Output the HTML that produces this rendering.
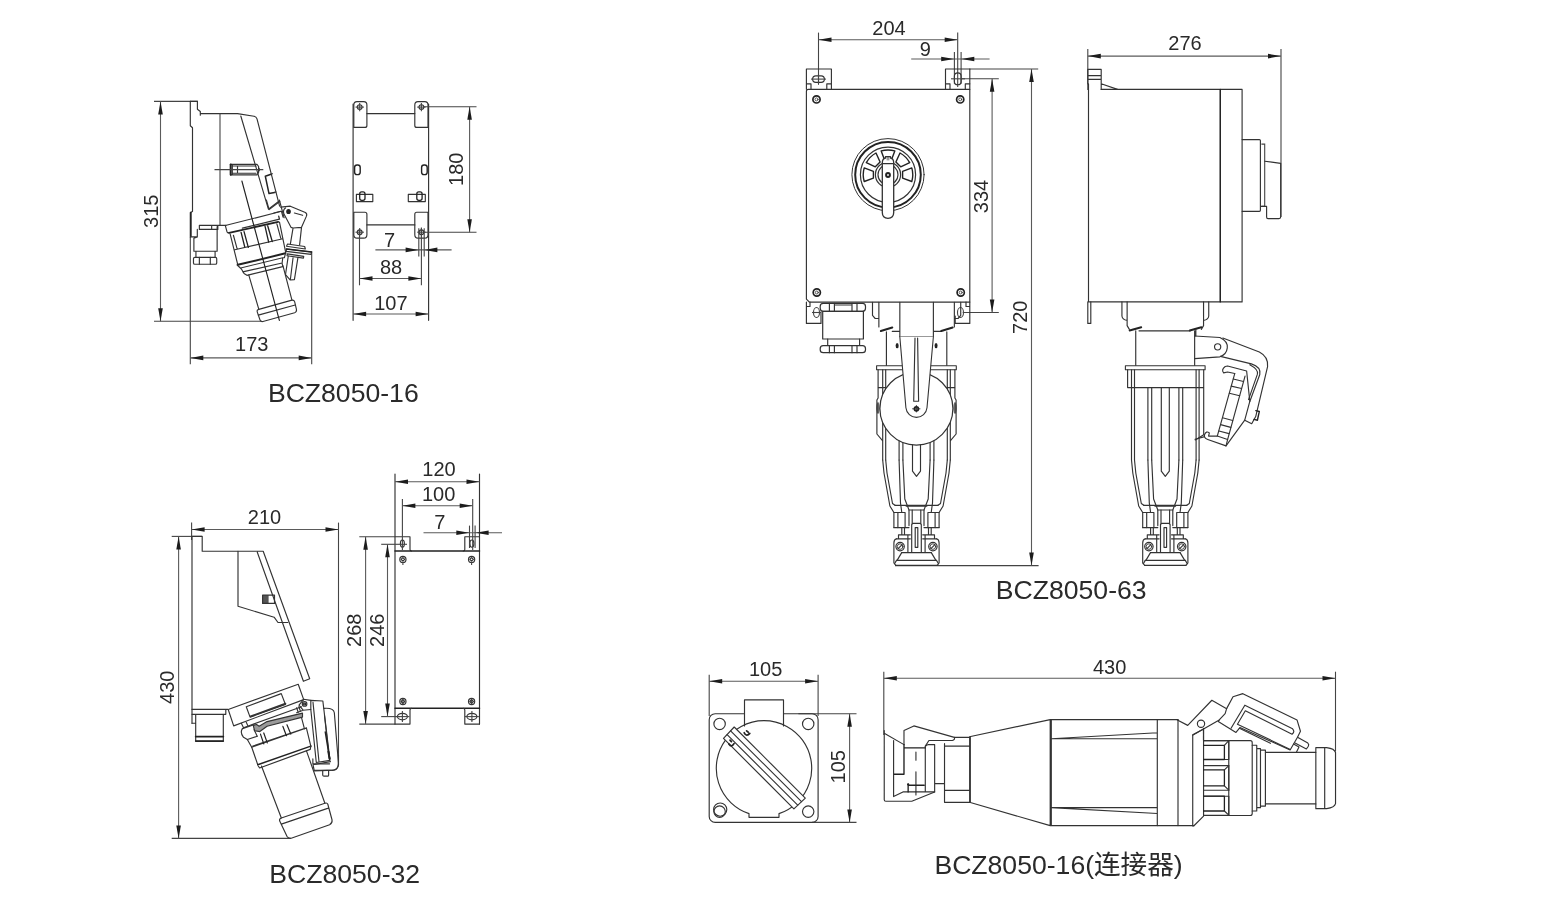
<!DOCTYPE html>
<html><head><meta charset="utf-8"><title>BCZ8050</title>
<style>
html,body{margin:0;padding:0;background:#fff;}
svg{display:block;filter:grayscale(1);}
text{font-family:"Liberation Sans","Noto Sans CJK SC",sans-serif;fill:#2a2a2a;}
.t{font-size:26.6px;}
.d{font-size:20px;}
.l{fill:none;stroke:#333;stroke-linecap:round;stroke-linejoin:round;}
.k{fill:none;stroke:#222;stroke-linecap:round;stroke-linejoin:round;}
.w{fill:#fff;stroke:#333;stroke-linecap:round;stroke-linejoin:round;}
.n{fill:none;stroke:#444;stroke-width:1.1;}
.m{fill:none;stroke:#5a5a5a;stroke-width:1.1;}
.a{fill:#1c1c1c;stroke:none;}
.f{fill:#222;stroke:none;}
</style></head><body>
<svg width="1550" height="914" viewBox="0 0 1550 914">
<rect width="1550" height="914" fill="#fff"/>
<g stroke-width="1.15">
<g id="titles">
<text class="t" x="267.9" y="402.2">BCZ8050-16</text>
<text class="t" x="269.3" y="883">BCZ8050-32</text>
<text class="t" x="995.8" y="599.2">BCZ8050-63</text>
<text class="t" x="934.4" y="873.8">BCZ8050-16(连接器)</text>
</g>
<g id="d1">
<line class="n" x1="154.0" y1="101.4" x2="198.0" y2="101.4"/>
<line class="n" x1="154.0" y1="321.3" x2="262.0" y2="321.3"/>
<line class="m" x1="160.5" y1="101.4" x2="160.5" y2="321.3"/><polygon class="a" points="160.5,101.4 158.2,114.4 162.8,114.4"/><polygon class="a" points="160.5,321.3 158.2,308.3 162.8,308.3"/>
<text class="d" transform="translate(158.3,211.2) rotate(-90)" text-anchor="middle">315</text>
<line class="n" x1="190.3" y1="237.0" x2="190.3" y2="364.3"/>
<line class="n" x1="311.7" y1="251.5" x2="311.7" y2="364.3"/>
<line class="m" x1="190.3" y1="357.9" x2="311.7" y2="357.9"/><polygon class="a" points="190.3,357.9 203.3,355.6 203.3,360.2"/><polygon class="a" points="311.7,357.9 298.7,355.6 298.7,360.2"/>
<text class="d" x="251.8" y="350.9" text-anchor="middle">173</text>
<path class="l" d="M190.3 101.4 H197.4 V109.3 L200.3 111.5 V115.2 M200.3 113.6 H237.5 L254 116.2 Q256.3 116.6 257 118.8 L279.6 206.2"/>
<path class="l" d="M190.3 101.4 V125.8 L192.5 127.8 V211.6 L190.3 212.6 V237"/>
<path class="k" d="M190.9 212.5 V236.5" stroke-width="1.6"/>
<line class="n" x1="220.0" y1="113.6" x2="220.0" y2="225.3"/>
<path class="l" d="M240.8 116 L268.4 209.2 L279.2 201"/>
<path class="l" d="M230.3 164.3 H257 L258.6 166.5 V172.5 L257 174.8 H230.3 Z M232.3 164.3 V174.8 M237.5 166 V173.2 M232.3 166 H256 M232.3 173.2 H256"/>
<path class="k" d="M230.8 164.3 V174.8" stroke-width="1.8"/>
<path class="f" d="M258.6 167.3 L259.8 168.6 V170.8 L258.6 172 Z"/>
<line class="n" x1="214.5" y1="169.6" x2="263.3" y2="169.6"/>
<path class="k" d="M271 174.3 L265.3 176.2 L269 193.6 L274.6 192.4" stroke-width="1.5"/>
<path class="l" d="M271 174.3 L272.5 173.8 M274.6 192.4 L276 192"/>
<g transform="translate(225,210) scale(0.06565)" stroke-width="17.52"><path class="l" d="M5 237 L860 20 L884 108 M5 237 L30 330 Q38 350 62 348"/><path class="k" d="M62 348 L810 180" stroke-width="27"/><path class="l" d="M265 277 L830 140 L818 95" stroke-width="20"/><path class="l" d="M78 365 L195 835 M128 385 L185 592 M150 605 L880 437 M830 185 L925 650 M790 212 L850 432"/><path class="k" d="M245 342 L300 560 M290 330 L355 570 M610 250 L665 490 M650 240 L720 480" stroke-width="20"/><path class="k" d="M195 835 L920 660" stroke-width="30"/><path class="l" d="M185 838 L250 898 L290 968 L340 998 M240 883 L880 728 M270 943 L870 808 M335 995 L880 863 M920 665 L905 725 L880 728 L870 808 L880 863"/></g>
<g transform="translate(185,200) scale(0.13676)" stroke-width="8.41"><path class="l" d="M40 270 H90 V215 M65 280 L90 270 M65 280 V375 H235 V195 M105 185 H300 M105 185 V215 H240 V185 M195 185 V215 M80 375 V420 M220 375 V420"/><rect class="l" x="62" y="420" width="170" height="50" rx="10"/><path class="l" d="M105 420 V470 M185 420 V470"/><path class="l" d="M466 548 L540 800 M716 480 L782 732"/><path class="l" d="M540 800 L782 732 Q798 730 802 745 L815 800 Q818 818 802 824 L570 888 Q553 892 548 876 L528 818 Q525 803 540 800 Z"/><path class="l" d="M536 842 L806 768"/><path class="k" d="M416 -139 L690 880"/><path class="l" d="M595 0 L615 70 L695 10 M690 0 L725 130"/><path class="l" d="M650 95 L700 82"/><ellipse class="f" cx="757" cy="84" rx="17" ry="19"/><path class="l" d="M700 52 L770 45 L880 92 Q895 100 888 118 L852 200 L838 328 M722 98 L775 200 L790 205 L770 325 M790 205 L850 200 M800 95 L860 112 M722 98 Q715 70 735 58"/><path class="l" d="M750 322 L875 340 L880 358 L742 338 Z M742 358 L925 380 L922 398 L740 376 Z M748 394 L868 412 L866 425 L746 408 Z"/><path class="k" d="M742 358 L925 380" stroke-width="12"/><path class="l" d="M755 410 L735 545 L770 585 L800 582 L826 420 M770 585 L790 422"/></g>
<path class="l" d="M353.1 104 V320.3 M428.6 104 V320.3"/>
<path class="l" d="M353.8 127.4 V105 Q353.8 101.6 357 101.6 H363.7 Q366.9 101.6 366.9 105 V125.4 Q366.9 127.4 364.9 127.4 Z"/>
<path class="l" d="M428 127.4 V105 Q428 101.6 424.8 101.6 H418 Q414.8 101.6 414.8 105 V125.4 Q414.8 127.4 416.8 127.4 Z"/>
<path class="l" d="M366.9 113.6 H414.8"/>
<path class="l" d="M353.8 212.2 V234.7 Q353.8 238.1 357 238.1 H363.7 Q366.9 238.1 366.9 234.7 V214.2 Q366.9 212.2 364.9 212.2 Z"/>
<path class="l" d="M428 212.2 V234.7 Q428 238.1 424.8 238.1 H418 Q414.8 238.1 414.8 234.7 V214.2 Q414.8 212.2 416.8 212.2 Z"/>
<path class="l" d="M366.9 224.9 H414.8"/>
<circle class="l" cx="359.7" cy="107.1" r="2.4"/><line class="n" x1="355.5" y1="107.1" x2="363.9" y2="107.1"/><line class="n" x1="359.7" y1="102.9" x2="359.7" y2="111.3"/>
<circle class="l" cx="421.4" cy="107.1" r="2.4"/><line class="n" x1="417.2" y1="107.1" x2="425.6" y2="107.1"/><line class="n" x1="421.4" y1="102.9" x2="421.4" y2="111.3"/>
<circle class="l" cx="359.7" cy="232.2" r="2.4"/><line class="n" x1="355.5" y1="232.2" x2="363.9" y2="232.2"/><line class="n" x1="359.7" y1="228.0" x2="359.7" y2="236.4"/>
<circle class="l" cx="421.4" cy="232.2" r="2.4"/><line class="n" x1="417.2" y1="232.2" x2="425.6" y2="232.2"/><line class="n" x1="421.4" y1="228.0" x2="421.4" y2="236.4"/>
<rect class="k" x="354.6" y="165" width="5.6" height="9.6" rx="2.4" stroke-width="1.4"/>
<rect class="k" x="421.6" y="165" width="5.6" height="9.6" rx="2.4" stroke-width="1.4"/>
<rect class="l" x="356.4" y="194.4" width="16.4" height="7.2"/>
<rect class="k" x="359.7" y="191.9" width="5.3" height="8.4" rx="2" stroke-width="1.3"/>
<rect class="l" x="408.3" y="194.4" width="17" height="7.2"/>
<rect class="k" x="416.8" y="191.9" width="5.3" height="8.4" rx="2" stroke-width="1.3"/>
<line class="n" x1="424.0" y1="106.8" x2="476.5" y2="106.8"/>
<line class="n" x1="424.0" y1="232.2" x2="476.5" y2="232.2"/>
<line class="m" x1="469.6" y1="106.8" x2="469.6" y2="232.2"/><polygon class="a" points="469.6,106.8 467.3,119.8 471.9,119.8"/><polygon class="a" points="469.6,232.2 467.3,219.2 471.9,219.2"/>
<text class="d" transform="translate(462.8,169.2) rotate(-90)" text-anchor="middle">180</text>
<line class="m" x1="375.4" y1="249.9" x2="451.6" y2="249.9"/>
<polygon class="a" points="418.6,249.9 405.6,247.6 405.6,252.2"/>
<polygon class="a" points="424.4,249.9 437.4,247.6 437.4,252.2"/>
<line class="n" x1="418.8" y1="228.2" x2="418.8" y2="256.5"/>
<line class="n" x1="424.2" y1="228.2" x2="424.2" y2="256.5"/>
<text class="d" x="389.6" y="246.6" text-anchor="middle">7</text>
<line class="n" x1="359.5" y1="229.5" x2="359.5" y2="285.3"/>
<line class="n" x1="421.4" y1="227.6" x2="421.4" y2="285.3"/>
<line class="m" x1="359.5" y1="278.5" x2="421.4" y2="278.5"/><polygon class="a" points="359.5,278.5 372.5,276.2 372.5,280.8"/><polygon class="a" points="421.4,278.5 408.4,276.2 408.4,280.8"/>
<text class="d" x="391.0" y="273.5" text-anchor="middle">88</text>
<line class="m" x1="353.1" y1="314.0" x2="428.6" y2="314.0"/><polygon class="a" points="353.1,314.0 366.1,311.7 366.1,316.3"/><polygon class="a" points="428.6,314.0 415.6,311.7 415.6,316.3"/>
<text class="d" x="390.9" y="309.6" text-anchor="middle">107</text>
</g>
<g id="d2">
<line class="n" x1="191.6" y1="522.6" x2="191.6" y2="540.0"/>
<line class="n" x1="338.5" y1="522.6" x2="338.5" y2="765.0"/>
<line class="m" x1="191.6" y1="529.5" x2="338.5" y2="529.5"/><polygon class="a" points="191.6,529.5 204.6,527.2 204.6,531.8"/><polygon class="a" points="338.5,529.5 325.5,527.2 325.5,531.8"/>
<text class="d" x="264.5" y="524.0" text-anchor="middle">210</text>
<line class="n" x1="171.7" y1="536.4" x2="202.2" y2="536.4"/>
<line class="n" x1="171.7" y1="838.4" x2="291.0" y2="838.4"/>
<line class="m" x1="178.6" y1="536.4" x2="178.6" y2="838.4"/><polygon class="a" points="178.6,536.4 176.3,549.4 180.9,549.4"/><polygon class="a" points="178.6,838.4 176.3,825.4 180.9,825.4"/>
<text class="d" transform="translate(173.6,687.3) rotate(-90)" text-anchor="middle">430</text>
<path class="l" d="M192 536.4 H202.2 V551.2 H263.2 L309.7 678.8 L303.4 681.3 L257.3 552.2 M192 536.4 V723.2"/>
<path class="l" d="M238 551.2 V606.3 L274.1 617.2 L278 622.5 H287.8"/>
<rect x="262.6" y="595.1" width="6" height="8.3" fill="#555"/>
<rect class="l" x="262.6" y="595.1" width="11.9" height="8.3"/>
<path class="l" d="M192 709.4 H227.8 M192 714.3 H225.8 V709.4 M195.7 714.3 V723.2 H192 M195.7 723.2 V736 M223.3 714.3 V736 M195.7 736 V741.3 H223.3 V736"/>
<path class="k" d="M195.7 736.6 H223.3" stroke-width="1.8"/>
<path class="k" d="M195.7 741 H223.3" stroke-width="1.6"/>
<g transform="translate(220,675) scale(0.10941)" stroke-width="10.51"><path class="l" d="M75 315 L715 85 L765 225 L125 465 Z"/><path class="l" d="M240 290 L560 170 L598 270 L275 385 Z"/><path class="l" d="M280 378 L598 262" stroke-width="16"/><path class="l" d="M195 442 L215 482 M240 432 L255 465"/><path class="l" d="M215 482 L745 290 M205 490 Q180 525 215 570 L250 590 L290 660 L345 820"/><path class="l" d="M205 490 L310 455"/><path d="M304 460 L334 453 L358 468 L430 426 L754 348 L754 385 L430 469 L364 517 L316 510 Z" fill="#9a9a9a" stroke="#333" stroke-linejoin="round"/><path class="l" d="M250 590 L340 560 M300 650 L770 490 M290 660 L790 485"/><path class="k" d="M370 540 L400 630 M400 530 L432 620 M575 470 L607 555 M612 455 L647 540" stroke-width="11"/><path class="l" d="M312 500 L340 560 M700 300 L715 340 M720 290 L735 330"/><path class="l" d="M745 390 L772 492 L790 485 L830 650"/><path class="k" d="M345 820 L830 650" stroke-width="14"/><path class="l" d="M350 832 L362 850 L825 680 L830 650"/><circle class="l" cx="773" cy="265" r="21"/><circle class="k" cx="773" cy="265" r="9" stroke-width="11"/><path class="l" d="M722 275 L765 222 L830 232 M830 315 L760 322 L722 275 M760 322 L700 345"/><path class="l" d="M830 232 L940 238 L1005 780 L880 800 L830 315 Z M850 250 L905 795"/><path class="l" d="M950 305 Q1038 298 1045 345 L1082 800 Q1086 862 1040 870 L862 876 L850 820 L1010 792 M955 370 L1000 770"/><path class="k" d="M962 520 L1002 765" stroke-width="13"/><path class="k" d="M990 700 L1002 765" stroke-width="18"/></g>
<g transform="translate(240,755) scale(0.09846)" stroke-width="11.68"><path class="l" d="M218 112 L420 640 M675 -42 L862 490"/><path class="l" d="M420 640 L862 490 Q885 482 892 500 L935 660 Q940 690 910 708 L520 845 Q490 850 478 828 L402 668 Q398 648 420 640 Z M420 702 L897 540"/><path class="l" d="M740 40 V90 H910 M840 160 V205 Q842 215 852 215 H890 Q900 215 900 205 V160 M760 155 H940"/><path class="l" d="M1000 0 V100 Q992 150 940 155"/></g>
<path class="l" d="M395.0 474 V724.1 M479.5 474 V724.1"/>
<path class="l" d="M395.0 536.7 H410 V549.5 Q410 551 411.5 551 M479.5 536.7 H464.8 V549.5 Q464.8 551 463.3 551"/>
<path class="k" d="M395.0 551 H479.5" stroke-width="1.5"/>
<path class="k" d="M395.0 708.2 H479.5" stroke-width="1.5"/>
<path class="l" d="M395.0 724.1 H410 V710 Q410 708.4 411.5 708.4 M479.5 724.1 H464.8 V710 Q464.8 708.4 463.3 708.4"/>
<ellipse class="l" cx="402.4" cy="543.6" rx="2" ry="3.6"/>
<ellipse class="l" cx="402.4" cy="716.6" rx="5" ry="3.2"/>
<line class="n" x1="395.4" y1="716.6" x2="409.4" y2="716.6"/>
<line class="n" x1="402.4" y1="711.0" x2="402.4" y2="722.0"/>
<ellipse class="l" cx="471.9" cy="543.6" rx="2" ry="3.6"/>
<ellipse class="l" cx="471.9" cy="716.6" rx="5" ry="3.2"/>
<line class="n" x1="464.9" y1="716.6" x2="478.9" y2="716.6"/>
<line class="n" x1="471.9" y1="711.0" x2="471.9" y2="722.0"/>
<circle class="l" cx="402.9" cy="559.4" r="3.1"/>
<path class="l" d="M401.1 559.4 l1.8 -1.8 l1.8 1.8 l-1.8 1.8 z"/>
<circle class="l" cx="402.9" cy="701.5" r="3.1"/>
<path class="l" d="M401.1 701.5 l1.8 -1.8 l1.8 1.8 l-1.8 1.8 z"/>
<circle class="l" cx="471.6" cy="559.4" r="3.1"/>
<path class="l" d="M469.8 559.4 l1.8 -1.8 l1.8 1.8 l-1.8 1.8 z"/>
<circle class="l" cx="471.6" cy="701.5" r="3.1"/>
<path class="l" d="M469.8 701.5 l1.8 -1.8 l1.8 1.8 l-1.8 1.8 z"/>
<line class="n" x1="402.9" y1="562.0" x2="402.9" y2="565.0"/>
<line class="n" x1="471.6" y1="562.0" x2="471.6" y2="565.0"/>
<line class="n" x1="402.9" y1="698.5" x2="402.9" y2="704.5"/>
<line class="n" x1="471.6" y1="698.5" x2="471.6" y2="704.5"/>
<line class="m" x1="395.0" y1="481.7" x2="479.5" y2="481.7"/><polygon class="a" points="395.0,481.7 408.0,479.4 408.0,484.0"/><polygon class="a" points="479.5,481.7 466.5,479.4 466.5,484.0"/>
<text class="d" x="439.0" y="476.4" text-anchor="middle">120</text>
<line class="n" x1="402.4" y1="499.0" x2="402.4" y2="550.0"/>
<line class="n" x1="472.7" y1="499.0" x2="472.7" y2="550.0"/>
<line class="m" x1="402.4" y1="505.8" x2="472.7" y2="505.8"/><polygon class="a" points="402.4,505.8 415.4,503.5 415.4,508.1"/><polygon class="a" points="472.7,505.8 459.7,503.5 459.7,508.1"/>
<text class="d" x="438.6" y="501.3" text-anchor="middle">100</text>
<line class="m" x1="423.5" y1="532.7" x2="502.0" y2="532.7"/>
<polygon class="a" points="469.3,532.7 456.3,530.4 456.3,535.0"/>
<polygon class="a" points="475.6,532.7 488.6,530.4 488.6,535.0"/>
<line class="n" x1="469.5" y1="525.6" x2="469.5" y2="548.0"/>
<line class="n" x1="475.1" y1="525.6" x2="475.1" y2="548.0"/>
<text class="d" x="439.8" y="529.2" text-anchor="middle">7</text>
<line class="n" x1="359.3" y1="536.7" x2="395.0" y2="536.7"/>
<line class="n" x1="359.3" y1="724.1" x2="395.0" y2="724.1"/>
<line class="n" x1="381.2" y1="544.3" x2="407.0" y2="544.3"/>
<line class="n" x1="381.2" y1="716.6" x2="400.0" y2="716.6"/>
<line class="m" x1="365.6" y1="536.7" x2="365.6" y2="724.1"/><polygon class="a" points="365.6,536.7 363.3,549.7 367.9,549.7"/><polygon class="a" points="365.6,724.1 363.3,711.1 367.9,711.1"/>
<line class="m" x1="387.5" y1="544.3" x2="387.5" y2="716.6"/><polygon class="a" points="387.5,544.3 385.2,557.3 389.8,557.3"/><polygon class="a" points="387.5,716.6 385.2,703.6 389.8,703.6"/>
<text class="d" transform="translate(360.9,630.2) rotate(-90)" text-anchor="middle">268</text>
<text class="d" transform="translate(383.9,630.2) rotate(-90)" text-anchor="middle">246</text>
</g>
<g id="d3">
<line class="n" x1="818.5" y1="32.6" x2="818.5" y2="84.6"/>
<line class="n" x1="957.7" y1="32.6" x2="957.7" y2="87.0"/>
<line class="m" x1="818.5" y1="39.7" x2="957.7" y2="39.7"/><polygon class="a" points="818.5,39.7 831.5,37.4 831.5,42.0"/><polygon class="a" points="957.7,39.7 944.7,37.4 944.7,42.0"/>
<text class="d" x="889.0" y="35.2" text-anchor="middle">204</text>
<line class="m" x1="911.2" y1="59.0" x2="989.6" y2="59.0"/>
<polygon class="a" points="954.2,59.0 941.2,56.7 941.2,61.3"/>
<polygon class="a" points="961.3,59.0 974.3,56.7 974.3,61.3"/>
<line class="n" x1="954.4" y1="51.9" x2="954.4" y2="83.8"/>
<line class="n" x1="961.1" y1="51.9" x2="961.1" y2="83.8"/>
<text class="d" x="925.4" y="56.1" text-anchor="middle">9</text>
<line class="n" x1="969.8" y1="69.0" x2="1038.2" y2="69.0"/>
<line class="n" x1="895.0" y1="565.6" x2="1038.6" y2="565.6"/>
<line class="m" x1="1031.5" y1="69.0" x2="1031.5" y2="565.6"/><polygon class="a" points="1031.5,69.0 1029.2,82.0 1033.8,82.0"/><polygon class="a" points="1031.5,565.6 1029.2,552.6 1033.8,552.6"/>
<text class="d" transform="translate(1026.5,317.2) rotate(-90)" text-anchor="middle">720</text>
<line class="n" x1="961.0" y1="78.8" x2="998.8" y2="78.8"/>
<line class="n" x1="962.7" y1="312.5" x2="998.8" y2="312.5"/>
<line class="m" x1="992.1" y1="78.8" x2="992.1" y2="312.5"/><polygon class="a" points="992.1,78.8 989.8,91.8 994.4,91.8"/><polygon class="a" points="992.1,312.5 989.8,299.5 994.4,299.5"/>
<text class="d" transform="translate(987.9,196.5) rotate(-90)" text-anchor="middle">334</text>
<path class="l" d="M806.4 91.3 Q806.4 89.3 808.4 89.3 H969.8 V302.1 H809.4 L806.4 299.1 Z"/>
<path class="l" d="M969.8 69 V89.3"/>
<path class="l" d="M806.4 89.3 V69 H831.4 V89.3 M806.4 83.8 H811 V89.3 M831.4 83.8 H826.8 V89.3"/>
<path class="l" d="M945.5 89.3 V69 H969.8 M945.5 83.8 H950 V89.3 M969.8 83.8 H965.3 V89.3"/>
<rect class="l" x="812.6" y="75.8" width="11.8" height="6.6" rx="3.3"/>
<line class="n" x1="818.5" y1="74.0" x2="818.5" y2="84.6"/>
<line class="n" x1="811.0" y1="79.1" x2="826.0" y2="79.1"/>
<rect class="l" x="954.4" y="72.9" width="6.7" height="11.8" rx="3.3"/>
<line class="n" x1="951.0" y1="78.8" x2="965.0" y2="78.8"/>
<circle class="k" cx="816.5" cy="99.4" r="3.6" stroke-width="1.7"/>
<circle class="l" cx="816.5" cy="99.4" r="1.5" stroke-width="0.8"/>
<circle class="k" cx="960.2" cy="99.4" r="3.6" stroke-width="1.7"/>
<circle class="l" cx="960.2" cy="99.4" r="1.5" stroke-width="0.8"/>
<circle class="k" cx="816.8" cy="292.5" r="3.6" stroke-width="1.7"/>
<circle class="l" cx="816.8" cy="292.5" r="1.5" stroke-width="0.8"/>
<circle class="k" cx="960.7" cy="292.5" r="3.6" stroke-width="1.7"/>
<circle class="l" cx="960.7" cy="292.5" r="1.5" stroke-width="0.8"/>
<circle class="l" cx="888.0" cy="174.7" r="36.1" stroke-width="1"/>
<circle class="k" cx="888.0" cy="174.7" r="32.8" stroke-width="2"/>
<circle class="l" cx="888.0" cy="174.7" r="27.6" stroke-width="1.2"/>
<path class="k" stroke-width="1.4" d="M873.4 178.1 L864.2 181.5 A24.8 24.8 0 0 1 864.2 167.9 L873.4 171.3 Z"/>
<path class="k" stroke-width="1.4" d="M875.3 166.8 L866.3 162.7 A24.8 24.8 0 0 1 876.0 153.0 L880.1 162.0 Z"/>
<path class="k" stroke-width="1.4" d="M884.6 160.1 L881.2 150.9 A24.8 24.8 0 0 1 894.8 150.9 L891.4 160.1 Z"/>
<path class="k" stroke-width="1.4" d="M895.9 162.0 L900.0 153.0 A24.8 24.8 0 0 1 909.7 162.7 L900.7 166.8 Z"/>
<path class="k" stroke-width="1.4" d="M902.6 171.3 L911.8 167.9 A24.8 24.8 0 0 1 911.8 181.5 L902.6 178.1 Z"/>
<circle class="w" cx="888.0" cy="174.7" r="12.6" stroke-width="1.2"/>
<circle class="l" cx="888.0" cy="174.7" r="10" stroke-width="1.2"/>
<path class="w" stroke-width="1.3" d="M882.3 163 Q882.3 158.5 885.5 158 V156.6 H890.5 V158 Q893.7 158.5 893.7 163 V212.6 Q893.7 218.3 888 218.3 Q882.3 218.3 882.3 212.6 Z"/>
<path class="l" d="M883 163.6 H893"/>
<path class="l" d="M887.2 157 V160 M888.8 157 V160" stroke-width="0.7"/>
<circle class="k" cx="888" cy="175" r="1.9" stroke-width="2"/>
<path class="l" d="M806.4 302.1 V323.4 H821 V312 M955.2 323.4 H969.8 V302.1 M955.2 323.4 V316 M966 302.1 V306.5 H969.8 M806.4 306.5 H810 V302.1"/>
<ellipse class="n" cx="816.5" cy="312.5" rx="3" ry="5"/>
<line class="n" x1="812.0" y1="312.5" x2="821.0" y2="312.5"/>
<ellipse class="n" cx="960.5" cy="312.5" rx="3" ry="5"/>
<rect class="w" x="820.2" y="303.4" width="45.3" height="7.9" rx="3" stroke-width="1.2"/>
<path class="l" d="M829.4 303.4 V311.3 M834.4 303.4 V311.3 M852 303.4 V311.3 M857 303.4 V311.3"/>
<path class="n" d="M834.4 305 H852"/>
<rect class="w" x="822.7" y="311.3" width="40.7" height="27.7" stroke-width="1.2"/>
<path class="l" d="M827.7 339 V346 M859.6 339 V346"/>
<rect class="w" x="820.2" y="345.7" width="45.3" height="7" rx="3" stroke-width="1.2"/>
<path class="l" d="M829.4 345.7 V352.7 M834.4 345.7 V352.7 M852 345.7 V352.7 M857 345.7 V352.7"/>
<g transform="translate(795,240) scale(0.16774)" stroke-width="6.86"><path class="l" d="M462 372 V450 L478 468 H500 V372 M500 468 V518 M988 372 V450 L972 468 H950 V372 M950 468 V518"/><path class="l" d="M625 372 V575 H825 V372 M580 545 H625 M825 545 H870"/><path class="k" d="M512 543 L580 522 M872 543 L940 522" stroke-width="12"/><path class="l" d="M545 548 V750 M905 548 V750"/><ellipse class="f" cx="609" cy="630" rx="9" ry="16"/><ellipse class="f" cx="841" cy="630" rx="9" ry="16"/></g>
<rect class="w" x="876.6" y="365.8" width="79.7" height="4" stroke-width="1.1"/><path class="l" d="M878.1 369.8 V387.6 H954.9 M954.9 369.8 V387.6"/><path class="l" d="M878.1 388 V398 L876.9 400 V434 L882.5 440.6 M954.9 388 V398 L956.1 400 V434 L950.5 440.6"/><path class="l" d="M882.7 369.8 V460 M950.3 369.8 V460"/><path class="l" d="M885.7 369.8 V460 M947.3 369.8 V460"/><path class="l" d="M899.1 387.6 V460 M933.9 387.6 V460"/><path class="l" d="M902.9 387.6 V460 M930.1 387.6 V460"/><path class="l" d="M912.5 387.6 V471.2 L916.5 476.4 L920.5 471.2 V387.6"/><path class="l" d="M882.7 460 L884.0 473 L889.9 506 L893.9 512.5 V527.6"/><path class="l" d="M885.7 460 L887.0 473 L892.5 503.5 L895.0 505.3"/><path class="l" d="M899.1 460 L900.5 503 L901.8 512.5"/><path class="l" d="M902.9 460 L904.8 499 L909.0 510 V525.6"/><path class="l" d="M893.9 512.5 H905.1 V527.6 M897.9 512.5 V527.6"/><path class="l" d="M893.9 527.6 H909.0"/><path class="l" d="M901.8 528 V534.8 M904.5 528 V534.8 M898.5 534.8 H910.3 M898.5 534.8 V538.8 M896.5 538.8 H910.3 M907.9 534.8 V552"/><path class="l" d="M896.5 538.8 Q893.9 539.5 893.9 543 V563 L895.9 565.4"/><path class="l" d="M901.7 552.6 L897.1 560.4 M896.5 560.4 L894.5 563.7"/><circle class="l" cx="900.1" cy="546.6" r="4.2" stroke-width="1.2"/><circle class="l" cx="900.1" cy="546.6" r="2.8" stroke-width="0.9"/><path class="l" d="M898.1 548.6 L902.1 544.6"/><path class="l" d="M950.3 460 L949.0 473 L943.1 506 L939.1 512.5 V527.6"/><path class="l" d="M947.3 460 L946.0 473 L940.5 503.5 L938.0 505.3"/><path class="l" d="M933.9 460 L932.5 503 L931.2 512.5"/><path class="l" d="M930.1 460 L928.2 499 L924.0 510 V525.6"/><path class="l" d="M939.1 512.5 H927.9 V527.6 M935.1 512.5 V527.6"/><path class="l" d="M939.1 527.6 H924.0"/><path class="l" d="M931.2 528 V534.8 M928.5 528 V534.8 M934.5 534.8 H922.7 M934.5 534.8 V538.8 M936.5 538.8 H922.7 M925.1 534.8 V552"/><path class="l" d="M936.5 538.8 Q939.1 539.5 939.1 543 V563 L937.1 565.4"/><path class="l" d="M931.3 552.6 L935.9 560.4 M936.5 560.4 L938.5 563.7"/><circle class="l" cx="932.9" cy="546.6" r="4.2" stroke-width="1.2"/><circle class="l" cx="932.9" cy="546.6" r="2.8" stroke-width="0.9"/><path class="l" d="M930.9 548.6 L934.9 544.6"/><path class="l" d="M895.0 505.3 H938.0 M906.2 506.2 H926.8 M909.0 510 H924.0"/><path class="l" d="M912.2 510 V523.5 M920.8 510 V523.5"/><path class="l" d="M911.7 552 V524.5 L912.9 523.3 H920.1 L921.3 524.5 V552"/><rect class="l" x="915.2" y="527.6" width="2.6" height="19.7"/><path class="l" d="M901.7 552.6 H931.3 M896.5 560.4 H936.5 M895.9 565.4 H937.1"/>
<circle class="w" cx="916.4" cy="408.6" r="36.5" stroke-width="1.2"/>
<ellipse class="f" cx="878" cy="408" rx="1.6" ry="6" opacity="0.7"/><ellipse class="f" cx="955" cy="408" rx="1.6" ry="6" opacity="0.7"/>
<path class="w" stroke-width="1.1" d="M899.8 336.5 L905.9 407.8 A10.6 10.6 0 0 0 927 407.8 L933.4 336.5"/>
<path class="l" d="M915 338 L913.7 401.2 H918.6 L917.6 338"/>
<circle class="k" cx="916.4" cy="408.8" r="2" stroke-width="1.8"/>
<path class="k" d="M912.5 408.8 H920 M916.4 405.4 V412" stroke-width="0.8"/>
<line class="n" x1="1087.8" y1="48.9" x2="1087.8" y2="90.0"/>
<line class="n" x1="1281.0" y1="48.9" x2="1281.0" y2="217.0"/>
<line class="m" x1="1087.8" y1="56.1" x2="1281.0" y2="56.1"/><polygon class="a" points="1087.8,56.1 1100.8,53.8 1100.8,58.4"/><polygon class="a" points="1281.0,56.1 1268.0,53.8 1268.0,58.4"/>
<text class="d" x="1185.0" y="50.4" text-anchor="middle">276</text>
<path class="l" d="M1087.8 83.8 V69.4 H1101.2 V89.4 M1087.8 75.6 H1101.2 M1087.8 79.4 H1101.2 M1101.2 83.8 L1117.5 89.4"/>
<path class="l" d="M1088.5 83.8 V301.9 H1242.1 V89.4 H1101.2 M1220.3 89.4 V301.9"/>
<path class="k" d="M1220.3 89.4 V301.9" stroke-width="1.3"/>
<path class="l" d="M1242.1 139.6 H1259.4 Q1260.4 139.6 1260.4 140.6 V210.3 Q1260.4 211.3 1259.4 211.3 H1242.1"/>
<path class="n" d="M1261.4 144.1 H1264.7 V206.4 H1261.4"/>
<path class="l" d="M1264.7 161.2 L1280.7 163.4 V216.8 Q1280.7 218.6 1279 218.6 H1268 Q1266.6 218.6 1266.6 217 V206.4 H1261.4"/>
<path class="l" d="M1087.8 301.9 V323.4 H1090.8 V301.9"/>
<g transform="translate(1070,270) scale(0.14839)" stroke-width="7.75"><path class="l" d="M350 215 V310 Q352 335 385 340 M385 215 V375 L400 400 M935 215 V310 Q933 335 900 340 M900 215 V375 L885 400"/><path class="k" d="M402 408 L480 386 M807 408 L885 386" stroke-width="13"/><path class="l" d="M465 410 H810 M443 410 V645 M840 410 V645 M848 400 V445"/><path class="l" d="M840 445 L1010 455 Q1065 480 1060 525 Q1055 570 1010 585 L840 597"/><circle class="l" cx="995" cy="518" r="21"/></g>
<rect class="w" x="1125.4" y="365.8" width="79.7" height="4" stroke-width="1.1"/><path class="l" d="M1127.6 369.8 V387.6 H1203.7 M1203.7 369.8 V434.8 L1195.3 440"/><path class="l" d="M1131.5 369.8 V460 M1199.1 369.8 V460"/><path class="l" d="M1134.5 369.8 V460 M1196.1 369.8 V460"/><path class="l" d="M1147.9 387.6 V460 M1182.7 387.6 V460"/><path class="l" d="M1151.7 387.6 V460 M1178.9 387.6 V460"/><path class="l" d="M1161.3 387.6 V471.2 L1165.3 476.4 L1169.3 471.2 V387.6"/><path class="l" d="M1131.5 460 L1132.8 473 L1138.7 506 L1142.7 512.5 V527.6"/><path class="l" d="M1134.5 460 L1135.8 473 L1141.3 503.5 L1143.8 505.3"/><path class="l" d="M1147.9 460 L1149.3 503 L1150.6 512.5"/><path class="l" d="M1151.7 460 L1153.6 499 L1157.8 510 V525.6"/><path class="l" d="M1142.7 512.5 H1153.9 V527.6 M1146.7 512.5 V527.6"/><path class="l" d="M1142.7 527.6 H1157.8"/><path class="l" d="M1150.6 528 V534.8 M1153.3 528 V534.8 M1147.3 534.8 H1159.1 M1147.3 534.8 V538.8 M1145.3 538.8 H1159.1 M1156.7 534.8 V552"/><path class="l" d="M1145.3 538.8 Q1142.7 539.5 1142.7 543 V563 L1144.7 565.4"/><path class="l" d="M1150.5 552.6 L1145.9 560.4 M1145.3 560.4 L1143.3 563.7"/><circle class="l" cx="1148.9" cy="546.6" r="4.2" stroke-width="1.2"/><circle class="l" cx="1148.9" cy="546.6" r="2.8" stroke-width="0.9"/><path class="l" d="M1146.9 548.6 L1150.9 544.6"/><path class="l" d="M1199.1 460 L1197.8 473 L1191.9 506 L1187.9 512.5 V527.6"/><path class="l" d="M1196.1 460 L1194.8 473 L1189.3 503.5 L1186.8 505.3"/><path class="l" d="M1182.7 460 L1181.3 503 L1180.0 512.5"/><path class="l" d="M1178.9 460 L1177.0 499 L1172.8 510 V525.6"/><path class="l" d="M1187.9 512.5 H1176.7 V527.6 M1183.9 512.5 V527.6"/><path class="l" d="M1187.9 527.6 H1172.8"/><path class="l" d="M1180.0 528 V534.8 M1177.3 528 V534.8 M1183.3 534.8 H1171.5 M1183.3 534.8 V538.8 M1185.3 538.8 H1171.5 M1173.9 534.8 V552"/><path class="l" d="M1185.3 538.8 Q1187.9 539.5 1187.9 543 V563 L1185.9 565.4"/><path class="l" d="M1180.1 552.6 L1184.7 560.4 M1185.3 560.4 L1187.3 563.7"/><circle class="l" cx="1181.7" cy="546.6" r="4.2" stroke-width="1.2"/><circle class="l" cx="1181.7" cy="546.6" r="2.8" stroke-width="0.9"/><path class="l" d="M1179.7 548.6 L1183.7 544.6"/><path class="l" d="M1143.8 505.3 H1186.8 M1155.0 506.2 H1175.6 M1157.8 510 H1172.8"/><path class="l" d="M1161.0 510 V523.5 M1169.6 510 V523.5"/><path class="l" d="M1160.5 552 V524.5 L1161.7 523.3 H1168.9 L1170.1 524.5 V552"/><rect class="l" x="1164.0" y="527.6" width="2.6" height="19.7"/><path class="l" d="M1150.5 552.6 H1180.1 M1145.3 560.4 H1185.3 M1144.7 565.4 H1185.9"/>
<g transform="translate(1180,325) scale(0.15865)" stroke-width="7.25"><path class="l" d="M270 82 L500 170 Q558 200 552 262 L478 575 M255 198 L450 245 Q512 265 503 312 L440 482 L408 600 L452 622 L478 575 M440 250 Q496 280 488 310 L432 470"/><path class="k" d="M478 540 L500 545 L488 600 L466 595" stroke-width="9"/><path class="l" d="M275 302 Q258 282 285 262 L300 258 L420 290 L440 482 M275 302 L300 296 L345 306 M408 600 L290 762 L175 722 Q148 712 155 690 Q165 665 185 680 L180 700 L235 700"/><path class="l" d="M345 306 L235 700 L300 722 L410 322"/><path class="l" d="M336 340 L400 356 M323 385 L388 400 M311 430 L376 446 M268 585 L332 602 M256 628 L320 645 M245 668 L309 685"/><path class="l" d="M300 722 L290 762 M150 705 L95 720"/></g>
</g>
<g id="d4">
<line class="n" x1="709.2" y1="674.7" x2="709.2" y2="716.0"/>
<line class="n" x1="818.1" y1="674.7" x2="818.1" y2="716.0"/>
<line class="m" x1="709.2" y1="681.2" x2="818.1" y2="681.2"/><polygon class="a" points="709.2,681.2 722.2,678.9 722.2,683.5"/><polygon class="a" points="818.1,681.2 805.1,678.9 805.1,683.5"/>
<text class="d" x="765.7" y="676.3" text-anchor="middle">105</text>
<line class="n" x1="798.4" y1="713.7" x2="856.5" y2="713.7"/>
<line class="n" x1="812.0" y1="822.4" x2="856.5" y2="822.4"/>
<line class="m" x1="849.6" y1="713.7" x2="849.6" y2="822.4"/><polygon class="a" points="849.6,713.7 847.3,726.7 851.9,726.7"/><polygon class="a" points="849.6,822.4 847.3,809.4 851.9,809.4"/>
<text class="d" transform="translate(844.7,766.8) rotate(-90)" text-anchor="middle">105</text>
<rect class="l" x="709.2" y="713.7" width="108.9" height="108.7" rx="6"/>
<path class="w" d="M744.5 726 V699.9 H783.5 V726"/>
<path class="l" d="M749.0 813.6 A47.7 47.7 0 1 1 779.0 813.6 V817.3 H749.0 Z"/>
<circle class="l" cx="719.6" cy="723.9" r="5.7"/>
<circle class="l" cx="808.2" cy="723.9" r="5.7"/>
<circle class="l" cx="719.6" cy="811.6" r="5.7"/>
<circle class="l" cx="808.2" cy="811.6" r="5.7"/>
<circle class="l" cx="720.2" cy="809.6" r="6.6"/>
<path class="w" d="M734.2 727 L805.3 798.1 L793.9 808.8 L723.5 738.4 Z"/>
<path class="l" d="M730.6 730.8 L801.5 801.7 M727.1 734.6 L797.7 805.2"/>
<g transform="translate(695,655) scale(0.19693)" stroke-width="5.84"><path class="k" d="M250 395 Q262 418 278 398 M270 392 L262 385 M172 452 Q185 472 198 450 M185 440 L178 432" stroke-width="9"/></g>
<line class="n" x1="883.8" y1="671.7" x2="883.8" y2="735.0"/>
<line class="n" x1="1335.5" y1="671.7" x2="1335.5" y2="751.5"/>
<line class="m" x1="883.8" y1="678.2" x2="1335.5" y2="678.2"/><polygon class="a" points="883.8,678.2 896.8,675.9 896.8,680.5"/><polygon class="a" points="1335.5,678.2 1322.5,675.9 1322.5,680.5"/>
<text class="d" x="1109.6" y="673.7" text-anchor="middle">430</text>
<g transform="translate(878,715) scale(0.10394)" stroke-width="11.06"><path class="l" d="M60 150 V815 Q60 830 75 830 H325 L545 740 M60 175 L250 285"/><path class="l" d="M250 285 V150 L345 105 L735 215 Q742 238 715 245 H490 L455 300 V735"/><path class="k" d="M250 316 H455 M250 285 V570 H150" stroke-width="13"/><path class="l" d="M150 245 V785 L240 740 H545 M480 285 H545 V740 M455 300 L480 285 M545 660 H640"/><path class="k" d="M365 355 V435 M365 545 V770" stroke-width="10"/><path class="k" d="M290 665 V740 M290 676 H445" stroke-width="13"/><circle class="f" cx="290" cy="668" r="11"/><path class="l" d="M735 215 H882 V840 H640 V275 M640 300 H882 M640 725 H882"/></g>
<path class="l" d="M969.5 736.7 L1050.2 719.6 H1178 M969.5 802.3 L1050.2 825.6 H1193.7 M970.3 736.7 V802.3 M1050.2 719.6 V825.6 M1051.3 719.6 V825.6"/>
<path class="l" d="M1051.3 738.7 L1157.3 732.8 M1051.3 738.7 H1157.3 M1051.3 807.6 H1157.3 M1051.3 807.6 L1157.3 813.5 M1157.3 719.6 V825.6 M1178 719.6 V825.6"/>
<g transform="translate(1110,655) scale(0.19697)" stroke-width="5.84"><path class="l" d="M420 868 V405 L475 376 V818 L425 868"/><path class="l" d="M475 435 H712 Q722 435 722 445 V805 Q722 815 712 815 H475 M603 435 V815"/><path class="l" d="M722 458 H745 V792 H722 M745 475 H764 V775 H745 M764 483 H789 V767 H764"/><path class="l" d="M789 494 H1045 M789 756 H1045"/><path class="l" d="M1045 470 H1100 Q1140 475 1145 495 V755 Q1140 775 1100 780 H1045 Z M1090 470 V780"/></g>
<path class="l" d="M1203.6 740.7 H1228.8 V759.5 H1203.6"/>
<path class="k" d="M1203.6 745.3 H1224.4 V759.5 H1203.6" stroke-width="1.3"/>
<path class="l" d="M1224.4 745.3 L1228.8 740.7"/>
<path class="l" d="M1203.6 765.6 H1228.8 V790.2 H1203.6"/>
<path class="k" d="M1203.6 769.9 H1224.4 V785.8 H1203.6" stroke-width="1.3"/>
<path class="l" d="M1224.4 769.9 L1228.8 765.6 M1224.4 785.8 L1228.8 790.2"/>
<path class="l" d="M1203.6 796.2 H1228.8 V815.2 H1203.6"/>
<path class="k" d="M1203.6 796.2 H1224.4 V811.0 H1203.6" stroke-width="1.3"/>
<path class="l" d="M1224.4 811.0 L1228.8 815.2"/>
<g transform="translate(1170,685) scale(0.09846)" stroke-width="11.68"><path class="l" d="M75 355 L180 410 L425 155 L575 240 M230 510 L500 355 L560 290 L575 240 M340 440 V560"/><circle class="l" cx="315" cy="393" r="37"/><path class="l" d="M575 240 L640 120 L740 88 L1290 355 L1325 470 L1295 530 L1220 660 L710 432 L670 482 L490 370 L500 355"/><path class="l" d="M620 440 L760 205 L1245 445 Q1272 475 1240 500 L765 262 L685 398 L1222 655 M705 440 L1020 592"/><path class="l" d="M1295 530 L1400 590 Q1415 605 1405 622 L1385 650 L1270 590 M1255 600 L1310 630 L1285 680"/></g>
</g>
</g>
</svg>
</body></html>
